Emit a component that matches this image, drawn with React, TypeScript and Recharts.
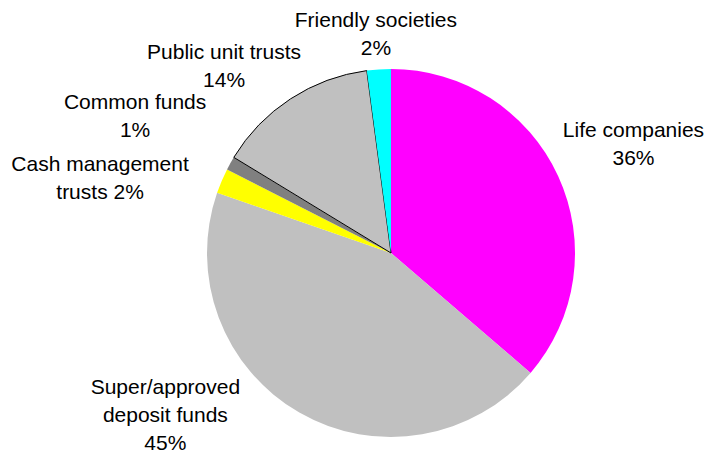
import { PieChart, Pie, Cell } from 'recharts';

const categories = [
  'Life companies',
  'Super/approved deposit funds',
  'Cash management trusts',
  'Common funds',
  'Public unit trusts',
  'Friendly societies',
];
const shares = [36.3, 44.0, 2.2, 1.2, 14.2, 2.1];
const labelLines = [
  ['Life companies', '36%'],
  ['Super/approved', 'deposit funds', '45%'],
  ['Cash management', 'trusts 2%'],
  ['Common funds', '1%'],
  ['Public unit trusts', '14%'],
  ['Friendly societies', '2%'],
];
const colors = ['#FF00FF', '#C0C0C0', '#FFFF00', '#808080', '#C0C0C0', '#00FFFF'];

const data = categories.map((name, i) => ({ name, value: shares[i] }));

// nudges so the labels sit where the original layout put them
const labelNudge = [
  [48, -20],
  [-119, -24],
  [-94, 8],
  [-69, -33],
  [-50, -8],
  [-1, -6],
];

const RADIAN = Math.PI / 180;
const LINE_H = 28;

const renderLabel = ({ cx, cy, midAngle, outerRadius, index }: any) => {
  const r = outerRadius + 30;
  const x = cx + r * Math.cos(-midAngle * RADIAN) + labelNudge[index][0];
  const y = cy + r * Math.sin(-midAngle * RADIAN) + labelNudge[index][1];
  const lines = labelLines[index];
  const top = y - ((lines.length - 1) * LINE_H) / 2;
  return (
    <text
      textAnchor="middle"
      fill="#000"
      fontSize={21}
      fontFamily="'Liberation Sans', Arial, sans-serif"
    >
      {lines.map((t, i) => (
        <tspan key={i} x={x} y={top + i * LINE_H} dominantBaseline="central">
          {t}
        </tspan>
      ))}
    </text>
  );
};

export default function App() {
  return (
    <div style={{ position: 'absolute', left: 0, top: 0, width: 707, height: 453, background: '#fff' }}>
      <PieChart width={707} height={453} margin={{ top: 0, right: 0, bottom: 0, left: 0 }}>
        <Pie
          data={data}
          dataKey="value"
          nameKey="name"
          cx={391}
          cy={253}
          outerRadius={184}
          startAngle={90}
          endAngle={-270}
          label={renderLabel}
          labelLine={false}
          isAnimationActive={false}
        >
          {data.map((d, i) => (
            <Cell
              key={d.name}
              fill={colors[i]}
              stroke={d.name === 'Public unit trusts' ? '#000' : 'none'}
              strokeWidth={1}
            />
          ))}
        </Pie>
      </PieChart>
    </div>
  );
}
